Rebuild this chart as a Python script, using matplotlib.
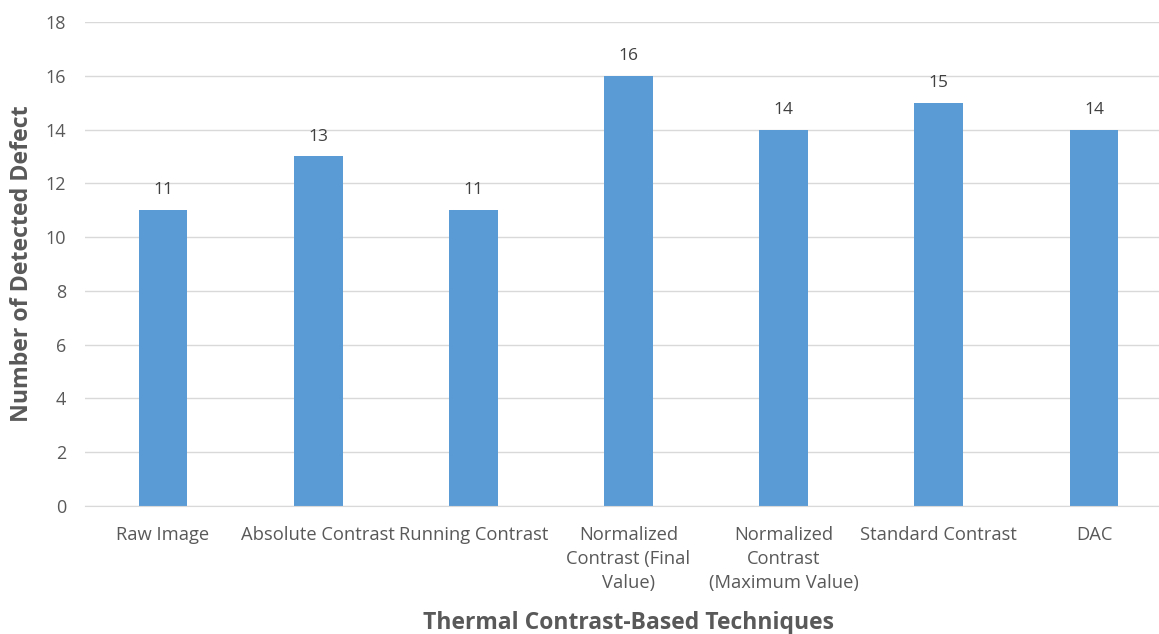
import matplotlib.pyplot as plt

techniques = [
    "Raw Image",
    "Absolute Contrast",
    "Running Contrast",
    "Normalized\nContrast (Final\nValue)",
    "Normalized\nContrast\n(Maximum Value)",
    "Standard Contrast",
    "DAC",
]
detected = [11, 13, 11, 16, 14, 15, 14]

text_gray = "#595959"
grid_gray = "#D9D9D9"
bar_blue = "#5B9BD5"

plt.rcParams["font.family"] = ["Open Sans", "DejaVu Sans"]

fig = plt.figure(figsize=(11.59, 6.34), dpi=100)
ax = fig.add_axes([0.0737, 0.2019, 0.9372, 0.7634])

x = range(len(techniques))
bars = ax.bar(x, detected, width=0.315, color=bar_blue, zorder=3)

for xi, v in zip(x, detected):
    ax.annotate(str(v), (xi, v), xytext=(0, 8.5), textcoords="offset points",
                ha="center", va="bottom", fontsize=12.5, color="#404040")

ax.set_xlim(-0.5, len(techniques) - 0.5)
ax.set_ylim(0, 18)
ax.set_yticks(range(0, 19, 2))
ax.set_xticks(list(x))
ax.set_xticklabels(techniques, fontsize=13.2, color=text_gray, linespacing=1.42,
                   va="top")
ax.tick_params(axis="y", labelsize=13, labelcolor=text_gray, length=0, pad=14)
ax.tick_params(axis="x", length=0, pad=14.5)

ax.yaxis.grid(True, color=grid_gray, linewidth=1.0, zorder=0)
for side in ["top", "right", "left"]:
    ax.spines[side].set_visible(False)
ax.spines["bottom"].set_color(grid_gray)
ax.spines["bottom"].set_zorder(4)

ax.set_ylabel("Number of Detected Defect", fontsize=16.7, fontweight="bold",
              color=text_gray, labelpad=8)
ax.set_xlabel("Thermal Contrast-Based Techniques", fontsize=16.5,
              fontweight="bold", color=text_gray, labelpad=14)

fig.savefig("out.png", dpi=100)
